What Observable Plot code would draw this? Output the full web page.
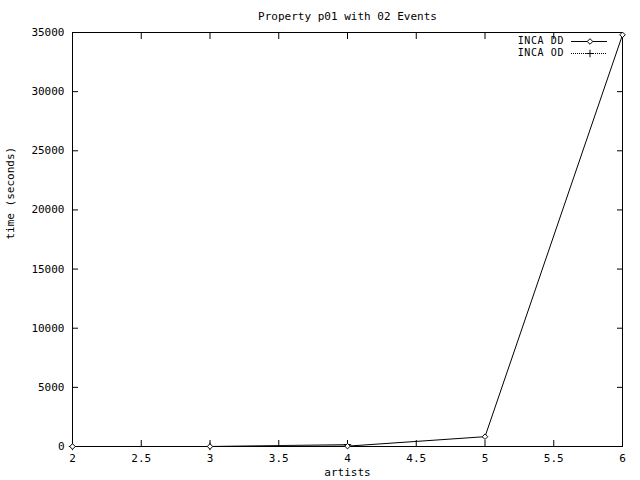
<!DOCTYPE html>
<html>
<head>
<meta charset="utf-8">
<script src="https://cdn.jsdelivr.net/npm/d3@7"></script>
<script src="https://cdn.jsdelivr.net/npm/@observablehq/plot@0.6"></script>
<style>
  html, body { margin: 0; padding: 0; background: #fff; }
  #chart { width: 640px; height: 480px; }
</style>
</head>
<body>
<div id="chart"></div>
<script>
const title = "Property p01 with 02 Events";
const xLabel = "artists";
const yLabel = "time (seconds)";
const seriesNames = ["INCA DD", "INCA OD"];

const ddX = [2, 3, 4, 5, 6];
const ddY = [0, 0, 30, 830, 34800];
const odX = [2, 3, 4];
const odY = [0, 0, 160];

const xTicks = [2, 2.5, 3, 3.5, 4, 4.5, 5, 5.5, 6];
const yTicks = [0, 5000, 10000, 15000, 20000, 25000, 30000, 35000];

const dd = ddX.map((x, i) => ({x, y: ddY[i]}));
const od = odX.map((x, i) => ({x, y: odY[i]}));

const FONT = "'DejaVu Sans Mono', 'Liberation Mono', monospace";

const chart = Plot.plot({
  width: 640,
  height: 480,
  marginLeft: 72,
  marginRight: 18,
  marginTop: 32,
  marginBottom: 34,
  style: {fontFamily: FONT, fontSize: "11px", background: "#fff", color: "#000"},
  x: {domain: [2, 6]},
  y: {domain: [0, 35000]},
  marks: [
    Plot.frame({stroke: "#000"}),
    Plot.axisX(xTicks, {anchor: "bottom", tickSize: -6, tickPadding: 14, tickFormat: d => String(d), label: null}),
    Plot.axisX(xTicks, {anchor: "top", tickSize: -6, tickFormat: () => "", label: null}),
    Plot.axisY(yTicks, {anchor: "left", tickSize: -6, tickPadding: 14, tickFormat: d => String(d), label: null}),
    Plot.axisY(yTicks, {anchor: "right", tickSize: -6, tickFormat: () => "", label: null}),
    Plot.line(od, {x: "x", y: "y", stroke: "#000", strokeWidth: 1, strokeDasharray: "1,1"}),
    Plot.dot(od, {x: "x", y: "y", symbol: "plus", r: 2.5, stroke: "#000", strokeWidth: 1}),
    Plot.line(dd, {x: "x", y: "y", stroke: "#000", strokeWidth: 1}),
    Plot.dot(dd, {x: "x", y: "y", symbol: "diamond2", r: 2.5, stroke: "#000", fill: "#fff", strokeWidth: 1}),
    Plot.text([title], {frameAnchor: "top", dy: -20, fontSize: 11}),
    Plot.text([xLabel], {frameAnchor: "bottom", dy: 29, fontSize: 11}),
    Plot.text([yLabel], {frameAnchor: "left", dx: -62, rotate: -90, fontSize: 11})
  ]
});

document.getElementById("chart").appendChild(chart);

// Legend (gnuplot style, inside top-right of the plot area)
const svg = d3.select(chart);
const legendStyles = [
  {dash: null, symbol: d3.symbolDiamond2},
  {dash: "1,1", symbol: d3.symbolPlus}
];
const lg = svg.append("g").attr("font-family", FONT).attr("font-size", 10);
seriesNames.forEach((name, i) => {
  const y = 41 + i * 12;
  lg.append("text").attr("x", 564).attr("y", y).attr("dy", "0.32em")
    .attr("letter-spacing", "0.6px")
    .attr("text-anchor", "end").text(name);
  lg.append("line").attr("x1", 571).attr("x2", 607).attr("y1", y + 0.5).attr("y2", y + 0.5)
    .attr("stroke", "#000").attr("stroke-dasharray", legendStyles[i].dash);
  lg.append("path").attr("transform", `translate(590,${y + 0.5})`)
    .attr("d", d3.symbol(legendStyles[i].symbol, 20)())
    .attr("fill", i === 0 ? "#fff" : "none").attr("stroke", "#000");
});
</script>
</body>
</html>
